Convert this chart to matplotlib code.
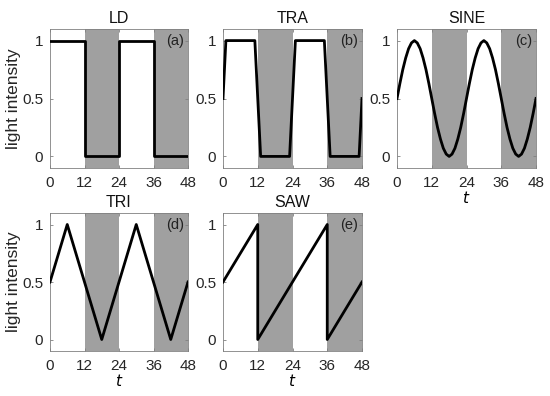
import matplotlib
matplotlib.use('Agg')
import matplotlib.pyplot as plt

plt.rcParams['font.family'] = ['Liberation Sans', 'DejaVu Sans']

# === DATA ===
dark_periods = [(12, 24), (36, 48)]
xticks = [0, 12, 24, 36, 48]
yticks = [0, 0.5, 1]
ytick_labels = ['0', '0.5', '1']

ld_t = [0, 12, 12, 24, 24, 36, 36, 48]
ld_y = [1, 1, 0, 0, 1, 1, 0, 0]

tra_t = [0, 1, 11, 13, 23, 25, 35, 37, 47, 48]
tra_y = [0.5, 1, 1, 0, 0, 1, 1, 0, 0, 0.5]

sine_t = list(range(49))
sine_y = [0.5, 0.63, 0.75, 0.85, 0.93, 0.98, 1.0, 0.98, 0.93, 0.85, 0.75, 0.63,
          0.5, 0.37, 0.25, 0.15, 0.07, 0.02, 0.0, 0.02, 0.07, 0.15, 0.25, 0.37,
          0.5, 0.63, 0.75, 0.85, 0.93, 0.98, 1.0, 0.98, 0.93, 0.85, 0.75, 0.63,
          0.5, 0.37, 0.25, 0.15, 0.07, 0.02, 0.0, 0.02, 0.07, 0.15, 0.25, 0.37,
          0.5]

tri_t = [0, 6, 18, 30, 42, 48]
tri_y = [0.5, 1, 0, 1, 0, 0.5]

saw_t = [0, 12, 12, 36, 36, 48]
saw_y = [0.5, 1, 0, 1, 0, 0.5]

panels = [
    ('LD', '(a)', ld_t, ld_y),
    ('TRA', '(b)', tra_t, tra_y),
    ('SINE', '(c)', sine_t, sine_y),
    ('TRI', '(d)', tri_t, tri_y),
    ('SAW', '(e)', saw_t, saw_y),
]

# axes rectangles in pixels: left, top, right, bottom (figure 550x396)
W, H = 550, 396
boxes = [
    (50, 29, 188, 168),
    (223, 29, 362, 168),
    (397, 29, 536, 168),
    (50, 213, 188, 351),
    (223, 213, 362, 351),
]

fig = plt.figure(figsize=(5.5, 3.96), dpi=100)

for i, (name, tag, t, y) in enumerate(panels):
    l, tp, r, b = boxes[i]
    ax = fig.add_axes([l / W, 1 - b / H, (r - l) / W, (b - tp) / H])
    for s, e in dark_periods:
        ax.axvspan(s, e, color='#a0a0a0', lw=0, zorder=0)
    ax.plot(t, y, color='black', lw=2, zorder=3)
    ax.set_xlim(0, 48)
    ax.set_ylim(-0.1, 1.1)
    ax.set_xticks(xticks)
    ax.set_yticks(yticks)
    ax.set_yticklabels(ytick_labels)
    ax.tick_params(direction='in', length=2, width=0.6, colors='#808080',
                   labelcolor='#262626', labelsize=11, top=True, right=True)
    ax.tick_params(axis='x', pad=6)
    ax.tick_params(axis='y', pad=5)
    for sp in ax.spines.values():
        sp.set_color('#808080')
        sp.set_linewidth(0.6)
    ax.set_title(name, fontsize=11.5, pad=4, color='#111111')
    ax.text(0.97, 0.965, tag, transform=ax.transAxes, ha='right', va='top',
            fontsize=10.5, color='#222222', zorder=5)
    if i in (0, 3):
        ax.set_ylabel('light intensity', fontsize=12.5, color='#262626', labelpad=1)
    if i in (2, 3, 4):
        ax.set_xlabel('$t$', fontsize=11, labelpad=0)

fig.savefig('out.png', dpi=100)
